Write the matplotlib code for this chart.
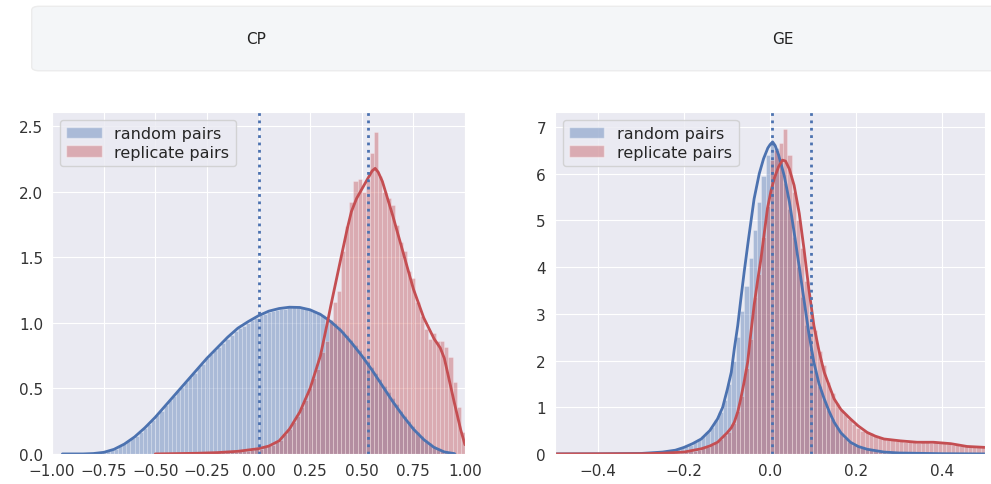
import numpy as np
import matplotlib
matplotlib.use("Agg")
import matplotlib.pyplot as plt
from matplotlib.patches import FancyBboxPatch, Patch
import seaborn as sns

sns.set_style("darkgrid")
plt.rcParams['font.family'] = ['DejaVu Sans']

BLUE = '#4c72b0'
RED = '#c44e52'

# ---- CP: histogram heights (bin width 0.02 over [-1, 1]) ----
cp_random_hist = [
    0, 0, 0, 0, 0, 0, 0, 0, 0, 0,
    0.005, 0.008, 0.012, 0.02, 0.03, 0.04, 0.058, 0.075, 0.095, 0.12,
    0.14, 0.17, 0.20, 0.23, 0.26, 0.30, 0.33, 0.37, 0.41, 0.44,
    0.48, 0.51, 0.55, 0.59, 0.62, 0.66, 0.69, 0.73, 0.76, 0.79,
    0.82, 0.85, 0.88, 0.91, 0.94, 0.96, 0.98, 1.00, 1.02, 1.04,
    1.06, 1.07, 1.08, 1.09, 1.10, 1.11, 1.11, 1.12, 1.12, 1.12,
    1.12, 1.11, 1.10, 1.09, 1.08, 1.06, 1.04, 1.02, 1.00, 0.97,
    0.94, 0.91, 0.87, 0.83, 0.79, 0.75, 0.71, 0.66, 0.62, 0.57,
    0.52, 0.47, 0.43, 0.38, 0.33, 0.29, 0.25, 0.21, 0.17, 0.14,
    0.11, 0.08, 0.06, 0.04, 0.03, 0.02, 0.01, 0.005, 0, 0,
]
cp_replicate_hist = [
    0, 0, 0, 0, 0, 0, 0, 0, 0, 0,
    0, 0, 0, 0, 0, 0, 0, 0, 0, 0,
    0, 0, 0, 0, 0, 0, 0.002, 0.002, 0.003, 0.003,
    0.004, 0.004, 0.005, 0.005, 0.006, 0.006, 0.007, 0.008, 0.009, 0.01,
    0.011, 0.012, 0.014, 0.016, 0.018, 0.02, 0.023, 0.026, 0.03, 0.035,
    0.04, 0.05, 0.06, 0.07, 0.09, 0.11, 0.15, 0.19, 0.24, 0.29,
    0.36, 0.41, 0.50, 0.58, 0.65, 0.78, 0.86, 1.02, 1.16, 1.24,
    1.55, 1.74, 1.92, 2.08, 2.10, 2.00, 2.08, 2.30, 2.46, 2.12,
    2.00, 1.95, 1.90, 1.75, 1.62, 1.55, 1.40, 1.34, 1.16, 1.05,
    0.95, 0.88, 0.92, 0.86, 0.86, 0.82, 0.74, 0.55, 0.36, 0.17,
]

# ---- CP: density curves ----
cp_random_kde_x = [-0.95, -0.85, -0.8, -0.75, -0.7, -0.65, -0.6, -0.55, -0.5, -0.45,
                   -0.4, -0.35, -0.3, -0.25, -0.2, -0.15, -0.1, -0.05, 0.0, 0.05,
                   0.1, 0.15, 0.2, 0.25, 0.3, 0.35, 0.4, 0.45, 0.5, 0.55,
                   0.6, 0.65, 0.7, 0.75, 0.8, 0.85, 0.9, 0.95]
cp_random_kde_y = [0.0, 0.0, 0.003, 0.012, 0.035, 0.075, 0.13, 0.2, 0.28, 0.37,
                   0.46, 0.55, 0.64, 0.73, 0.81, 0.89, 0.96, 1.01, 1.055, 1.09,
                   1.11, 1.12, 1.118, 1.1, 1.065, 1.01, 0.94, 0.85, 0.75, 0.64,
                   0.52, 0.40, 0.29, 0.19, 0.11, 0.05, 0.015, 0.002]
cp_replicate_kde_x = [-0.5, -0.3, -0.2, -0.1, 0.0, 0.05, 0.1, 0.15, 0.2, 0.25,
                      0.3, 0.336, 0.35, 0.4, 0.43, 0.45, 0.475, 0.5, 0.525, 0.55,
                      0.565, 0.58, 0.6, 0.65, 0.7, 0.75, 0.8, 0.85, 0.88, 0.9,
                      0.95, 0.98, 1.0]
cp_replicate_kde_y = [0.0, 0.005, 0.01, 0.02, 0.04, 0.06, 0.1, 0.19, 0.32, 0.5,
                      0.75, 1.02, 1.13, 1.5, 1.72, 1.85, 1.95, 2.02, 2.09, 2.16,
                      2.18, 2.15, 2.08, 1.82, 1.54, 1.26, 1.04, 0.88, 0.81, 0.73,
                      0.38, 0.18, 0.07]
cp_thresholds = [0.0, 0.53]

# ---- GE: histogram heights (bin width 0.01 over [-0.5, 0.5]) ----
ge_random_hist = [
    0, 0, 0, 0, 0, 0, 0, 0, 0, 0.002,
    0.002, 0.003, 0.003, 0.004, 0.005, 0.006, 0.007, 0.008, 0.009, 0.01,
    0.012, 0.015, 0.02, 0.03, 0.04, 0.05, 0.065, 0.08, 0.1, 0.13,
    0.16, 0.2, 0.25, 0.31, 0.38, 0.47, 0.58, 0.72, 0.9, 1.15,
    1.5, 2.0, 2.5, 3.05, 3.6, 4.2, 4.8, 5.4, 5.95, 6.4,
    6.65, 6.55, 6.25, 5.8, 5.25, 4.65, 4.0, 3.35, 2.75, 2.2,
    1.8, 1.45, 1.18, 0.95, 0.75, 0.58, 0.45, 0.35, 0.26, 0.2,
    0.16, 0.13, 0.1, 0.08, 0.06, 0.05, 0.04, 0.03, 0.025, 0.02,
    0.015, 0.012, 0.01, 0.008, 0.007, 0.006, 0.005, 0.004, 0.003, 0.003,
    0.002, 0.002, 0.002, 0.001, 0.001, 0.001, 0.001, 0, 0, 0,
]
ge_replicate_hist = [
    0, 0, 0, 0, 0, 0, 0, 0, 0, 0,
    0, 0, 0, 0.001, 0.001, 0.002, 0.002, 0.003, 0.003, 0.004,
    0.005, 0.006, 0.007, 0.008, 0.01, 0.012, 0.015, 0.02, 0.025, 0.03,
    0.045, 0.055, 0.07, 0.09, 0.12, 0.15, 0.19, 0.24, 0.31, 0.4,
    0.48, 0.66, 0.92, 1.25, 1.85, 2.45, 3.35, 3.85, 4.65, 5.3,
    6.3, 6.5, 6.65, 6.95, 6.4, 5.6, 5.0, 4.4, 3.7, 3.0,
    2.65, 2.2, 1.9, 1.55, 1.3, 1.1, 0.95, 0.85, 0.75, 0.65,
    0.56, 0.5, 0.46, 0.44, 0.39, 0.36, 0.33, 0.3, 0.29, 0.28,
    0.27, 0.26, 0.27, 0.25, 0.24, 0.26, 0.25, 0.24, 0.25, 0.24,
    0.23, 0.21, 0.2, 0.19, 0.18, 0.17, 0.16, 0.15, 0.15, 0.14,
]

# ---- GE: density curves ----
ge_random_kde_x = [-0.5, -0.4, -0.3, -0.25, -0.22, -0.2, -0.18, -0.16, -0.14, -0.122,
                   -0.11, -0.099, -0.09, -0.083, -0.075, -0.068, -0.06, -0.05, -0.037, -0.025,
                   -0.015, -0.005, 0.0, 0.006, 0.012, 0.02, 0.033, 0.045, 0.056, 0.068,
                   0.079, 0.09, 0.102, 0.114, 0.126, 0.138, 0.149, 0.165, 0.187, 0.205,
                   0.226, 0.265, 0.3, 0.4, 0.5]
ge_random_kde_y = [0.0, 0.002, 0.01, 0.04, 0.08, 0.14, 0.22, 0.32, 0.5, 0.75,
                   1.0, 1.39, 1.75, 2.25, 2.75, 3.3, 3.9, 4.6, 5.46, 6.0,
                   6.32, 6.55, 6.62, 6.68, 6.6, 6.4, 5.96, 5.4, 4.75, 4.0,
                   3.3, 2.6, 1.96, 1.5, 1.18, 0.9, 0.68, 0.45, 0.25, 0.16,
                   0.1, 0.04, 0.02, 0.005, 0.0]
ge_replicate_kde_x = [-0.5, -0.3, -0.25, -0.2, -0.16, -0.14, -0.122, -0.1, -0.09, -0.083,
                      -0.075, -0.068, -0.06, -0.052, -0.045, -0.037, -0.029, -0.021, -0.013, -0.006,
                      0.002, 0.01, 0.02, 0.029, 0.036, 0.045, 0.056, 0.068, 0.079, 0.09,
                      0.102, 0.114, 0.126, 0.138, 0.149, 0.165, 0.187, 0.205, 0.226, 0.245,
                      0.265, 0.303, 0.342, 0.38, 0.42, 0.458, 0.5]
ge_replicate_kde_y = [0.0, 0.005, 0.015, 0.04, 0.11, 0.17, 0.25, 0.45, 0.56, 0.68,
                      0.9, 1.18, 1.55, 1.96, 2.55, 3.18, 3.7, 4.18, 4.75, 5.25,
                      5.62, 5.9, 6.15, 6.29, 6.27, 6.1, 5.75, 5.15, 4.39, 3.55,
                      2.75, 2.2, 1.75, 1.45, 1.18, 0.95, 0.75, 0.6, 0.46, 0.38,
                      0.32, 0.28, 0.25, 0.25, 0.22, 0.16, 0.14]
ge_thresholds = [0.005, 0.095]

titles = ['CP', 'GE']
labels = ['random pairs', 'replicate pairs']


def draw_panel(ax, edges, rand_hist, rep_hist, rand_kde, rep_kde, thresholds):
    centers = (edges[:-1] + edges[1:]) / 2
    width = edges[1] - edges[0]
    ax.bar(centers, rand_hist, width=width, color=BLUE, alpha=0.4,
           edgecolor='white', linewidth=0.4)
    ax.bar(centers, rep_hist, width=width, color=RED, alpha=0.4,
           edgecolor='white', linewidth=0.4)
    ax.plot(rand_kde[0], rand_kde[1], color=BLUE, lw=2, solid_joinstyle='round')
    ax.plot(rep_kde[0], rep_kde[1], color=RED, lw=2, solid_joinstyle='round')
    for t in thresholds:
        ax.axvline(t, color=BLUE, linestyle=':', lw=2)
    handles = [Patch(facecolor=BLUE, alpha=0.4), Patch(facecolor=RED, alpha=0.4)]
    ax.legend(handles, labels, loc='upper left', fontsize=11.5,
              handlelength=2.2, borderpad=0.4, labelspacing=0.2)
    ax.tick_params(labelsize=11, colors='#333333', pad=3)


fig = plt.figure(figsize=(9.91, 4.85), dpi=100)

# header strip with the two panel names
header = FancyBboxPatch((0.032, 0.852), 1.0, 0.133,
                        boxstyle='round,pad=0,rounding_size=0.008',
                        transform=fig.transFigure, facecolor='#f4f6f8',
                        edgecolor='#ececec', lw=1)
fig.patches.append(header)
fig.text(0.258, 0.918, titles[0], ha='center', va='center',
         fontsize=11, color='#222222')
fig.text(0.790, 0.918, titles[1], ha='center', va='center',
         fontsize=11, color='#222222')

ax1 = fig.add_axes([0.0525, 0.062, 0.4167, 0.705])
ax2 = fig.add_axes([0.560, 0.062, 0.434, 0.705])

draw_panel(ax1, np.linspace(-1, 1, 101), cp_random_hist, cp_replicate_hist,
           (cp_random_kde_x, cp_random_kde_y),
           (cp_replicate_kde_x, cp_replicate_kde_y), cp_thresholds)
ax1.set_xlim(-1, 1)
ax1.set_ylim(0, 2.61)
ax1.set_xticks(np.arange(-1, 1.01, 0.25))
ax1.set_xticklabels([f'{v:.2f}'.replace('-', '\u2212') for v in np.arange(-1, 1.01, 0.25)])
ax1.set_yticks(np.arange(0, 2.51, 0.5))

draw_panel(ax2, np.linspace(-0.5, 0.5, 101), ge_random_hist, ge_replicate_hist,
           (ge_random_kde_x, ge_random_kde_y),
           (ge_replicate_kde_x, ge_replicate_kde_y), ge_thresholds)
ax2.set_xlim(-0.5, 0.5)
ax2.set_ylim(0, 7.32)
ax2.set_xticks([-0.4, -0.2, 0.0, 0.2, 0.4])
ax2.set_yticks(range(0, 8))

fig.savefig('out.png', dpi=100)
